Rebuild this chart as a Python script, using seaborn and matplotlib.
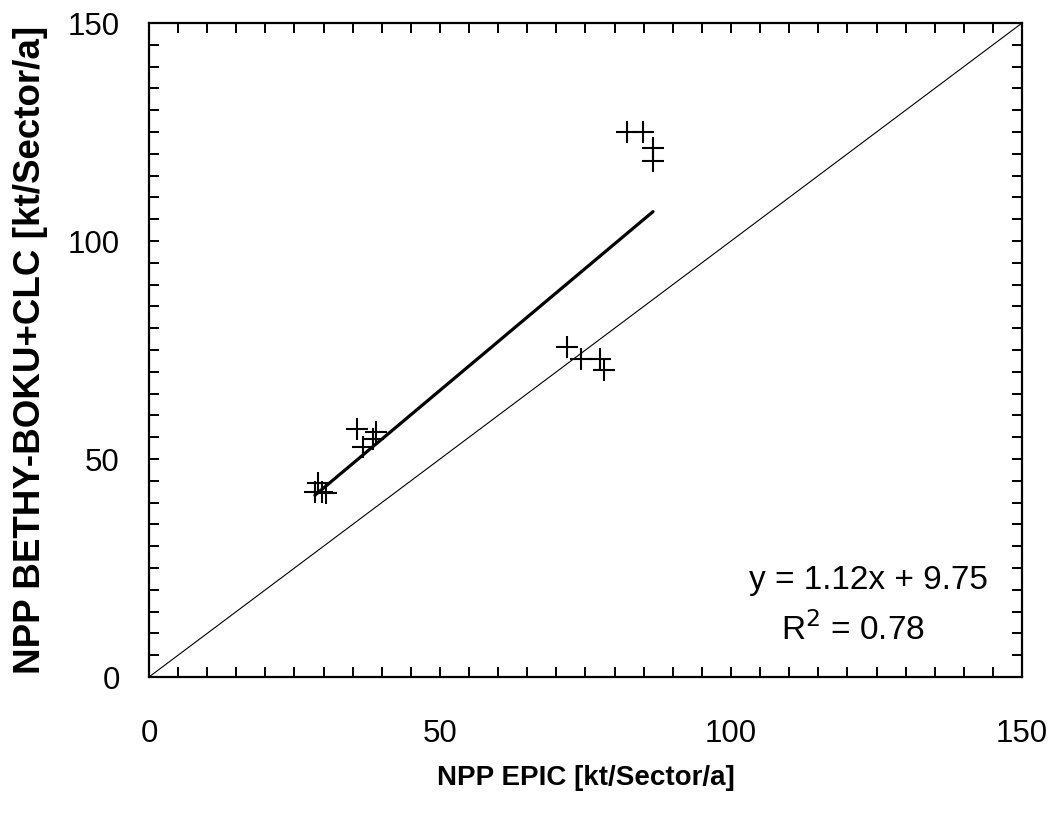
import numpy as np
import pandas as pd
import matplotlib
matplotlib.use("Agg")
import matplotlib.pyplot as plt
import seaborn as sns
from matplotlib.ticker import MultipleLocator

## data
npp_epic = [82.1, 84.8, 86.6, 86.6,
            71.9, 74.3, 77.5, 78.1,
            35.7, 39.0, 36.7, 38.5,
            29.0, 29.7, 30.5, 28.5]
npp_bethy = [124.9, 124.9, 121.3, 118.3,
             75.8, 72.9, 72.9, 70.4,
             56.9, 56.1, 52.8, 54.7,
             44.4, 42.5, 42.2, 42.4]
fit_slope = 1.12
fit_intercept = 9.75
fit_r2 = 0.78
axis_max = 150

sns.set_style("ticks")
plt.rcParams['font.family'] = ['Liberation Sans', 'DejaVu Sans']
plt.rcParams.update({"text.color": "black", "axes.labelcolor": "black",
                     "xtick.color": "black", "ytick.color": "black",
                     "xtick.labelcolor": "black", "ytick.labelcolor": "black"})

df = pd.DataFrame({"epic": npp_epic, "bethy": npp_bethy})

fig = plt.figure(figsize=(10.58, 8.14), dpi=100)
ax = fig.add_axes([0.1408, 0.1683, 0.9660 - 0.1408, 0.9717 - 0.1683])

# 1:1 line
one = pd.DataFrame({"x": [0, axis_max], "y": [0, axis_max]})
sns.lineplot(data=one, x="x", y="y", color="black", linewidth=0.8, ax=ax)

# regression line over the data range
xs = np.array([min(npp_epic), max(npp_epic)])
fit = pd.DataFrame({"x": xs, "y": fit_slope * xs + fit_intercept})
sns.lineplot(data=fit, x="x", y="y", color="black", linewidth=2.3, ax=ax)

sns.scatterplot(data=df, x="epic", y="bethy", marker="+", s=260,
                color="black", linewidth=1.5, ax=ax, zorder=3)

ax.set_xlim(0, axis_max)
ax.set_ylim(0, axis_max)
ax.xaxis.set_major_locator(MultipleLocator(50))
ax.yaxis.set_major_locator(MultipleLocator(50))
ax.xaxis.set_minor_locator(MultipleLocator(5))
ax.yaxis.set_minor_locator(MultipleLocator(5))
ax.tick_params(which="both", direction="in", top=True, right=True,
               length=7, width=1.4, color="black", labelcolor="black")
ax.tick_params(axis="x", which="major", labelsize=22.5, pad=30)
ax.tick_params(axis="y", which="major", labelsize=22.5, pad=21)
for s in ax.spines.values():
    s.set_linewidth(1.6)
    s.set_color("black")

ax.set_xlabel("NPP EPIC [kt/Sector/a]", fontsize=20, fontweight="bold", labelpad=12)
ax.set_ylabel("NPP BETHY-BOKU+CLC [kt/Sector/a]", fontsize=26.5, fontweight="bold", labelpad=14)

ax.text(0.961, 0.148, f"y = {fit_slope:.2f}x + {fit_intercept:.2f}", transform=ax.transAxes,
        ha="right", va="center", fontsize=24)
ax.text(0.806, 0.072, f"R$^2$ = {fit_r2:.2f}", transform=ax.transAxes,
        ha="center", va="center", fontsize=24)

fig.savefig("out.png", dpi=100, facecolor="white")
